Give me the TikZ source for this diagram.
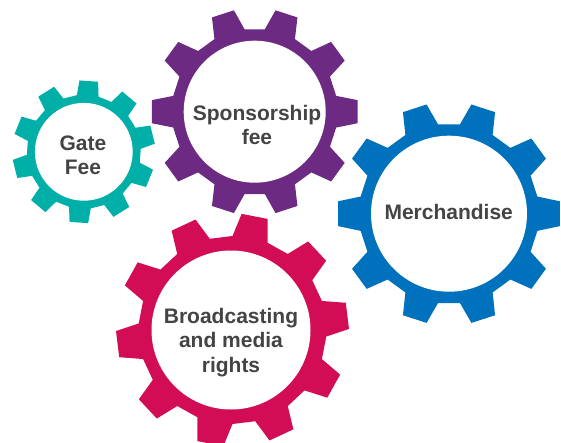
\documentclass[tikz,border=0pt]{standalone}
\usepackage{fontspec}
\setmainfont{Liberation Sans}
\definecolor{gateteal}{HTML}{00B0A8}
\definecolor{sponsorpurple}{HTML}{6D2A82}
\definecolor{merchblue}{HTML}{0071BC}
\definecolor{mediared}{HTML}{D30D55}
\definecolor{labelgrey}{HTML}{444444}
\tikzset{
  hole/.style={circle, fill=white, inner sep=0pt},
  gearlabel/.style={inner sep=0pt, align=center, text=labelgrey, font=\bfseries\fontsize{21}{24.5}\selectfont},
}
% #1 centre, #2 colour, #3 root radius, #4 tip radius, #5 phase, #6 tip half angle
\newcommand{\gearwheel}[6]{
\fill[#2, shift={(#1)}] (#5-11:#3)
  \foreach \a in {0,36,...,324} {
    -- (#5+\a-11:#3) -- (#5+\a-#6:#4) -- (#5+\a+#6:#4) -- (#5+\a+11:#3)
  } -- cycle;
}
\begin{document}
\begin{tikzpicture}[x=1pt, y=1pt]
\clip (0,0) rectangle (561,442);
\gearwheel{83.8,290.2}{gateteal}{57}{71.5}{14}{7.5}
\gearwheel{254.7,330.3}{sponsorpurple}{83}{103.5}{0}{6.4}
\gearwheel{449,228.3}{merchblue}{90}{111.5}{0}{6.4}
\gearwheel{232.5,112}{mediared}{94}{116.5}{7}{6.5}
\node[hole, minimum size=97.8pt] (gatehole) at (83.8,290.2) {};
\node[hole, minimum size=142pt] (sponsorhole) at (254.7,330.3) {};
\node[hole, minimum size=156pt] (merchhole) at (449,228.3) {};
\node[hole, minimum size=159pt] (mediahole) at (231,112) {};
\node[gearlabel] (gatelabel) at (83,286.7) {Gate\\Fee};
\node[gearlabel] (sponsorlabel) at (257,316.8) {Sponsorship\\fee};
\node[gearlabel] (merchlabel) at (448.7,230.3) {Merchandise};
\node[gearlabel] (medialabel) at (231,99.5) {Broadcasting\\and media\\rights};
\end{tikzpicture}
\end{document}
